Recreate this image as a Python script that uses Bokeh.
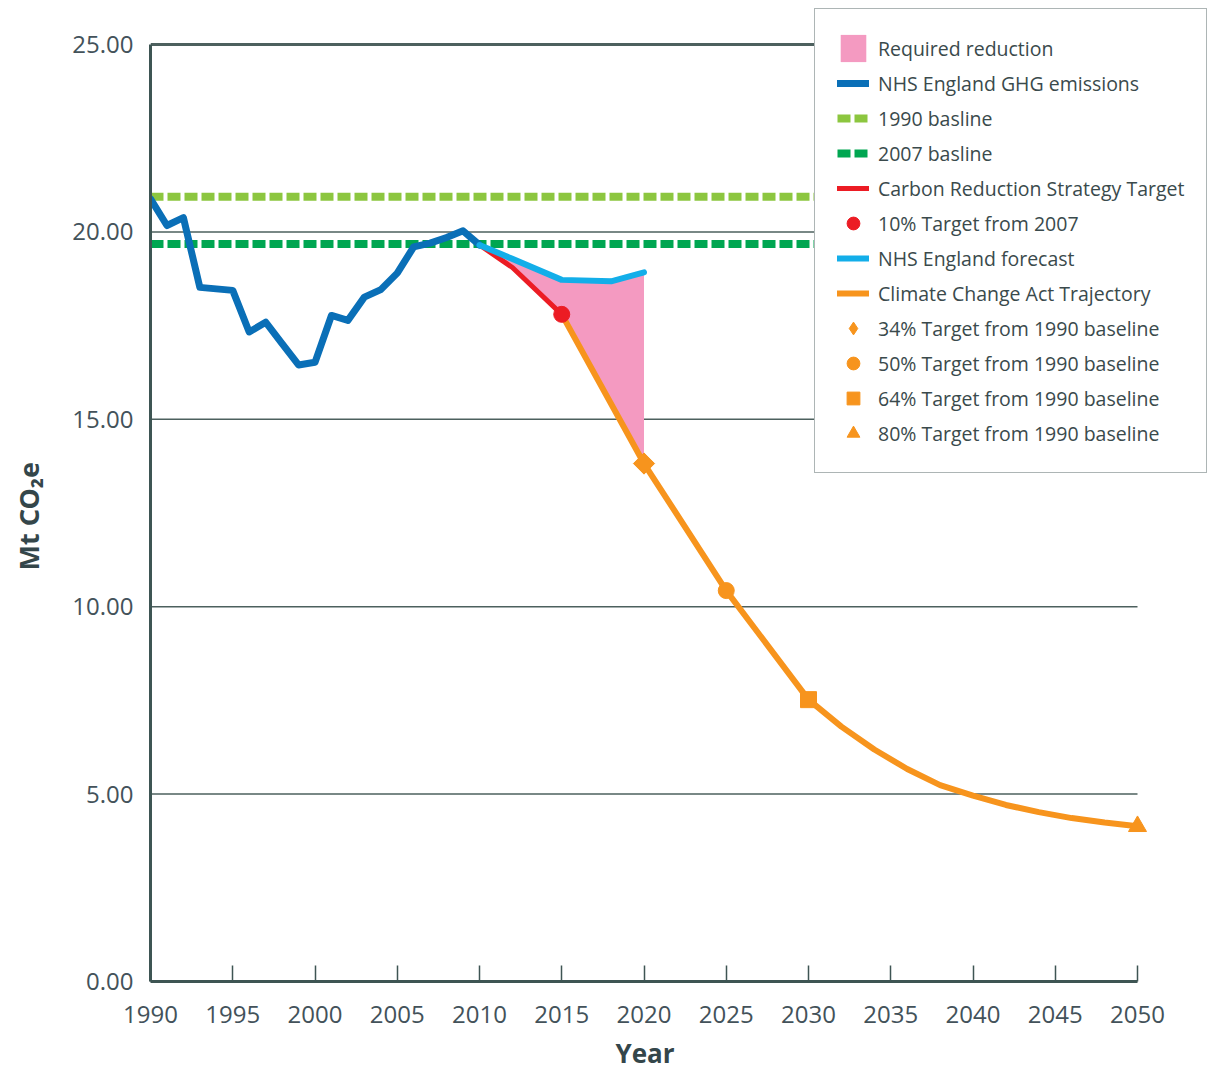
from bokeh.plotting import figure
from bokeh.models import Legend, LegendItem, FixedTicker, NumeralTickFormatter, Range1d, LinearAxis, Title
from bokeh.embed import file_html
from bokeh.resources import INLINE

# ---------------- data ----------------
years_hist = list(range(1990, 2011))
ghg_hist = [20.88, 20.17, 20.38, 18.52, 18.48, 18.44, 17.33, 17.59, 17.02, 16.45, 16.52,
            17.77, 17.64, 18.26, 18.46, 18.90, 19.60, 19.70, 19.85, 20.03, 19.65]

forecast_years = [2010, 2012, 2015, 2018, 2020]
forecast_vals = [19.65, 19.28, 18.72, 18.68, 18.92]

crs_years = [2010, 2012, 2015]
crs_vals = [19.65, 19.05, 17.80]

cca_years = [2015, 2020, 2025, 2030, 2032, 2034, 2036, 2038, 2040, 2042, 2044, 2046, 2048, 2050]
cca_vals = [17.80, 13.82, 10.43, 7.52, 6.80, 6.19, 5.67, 5.24, 4.96, 4.71, 4.52, 4.36, 4.24, 4.14]

baseline_years = [1990, 2050]
baseline_1990 = 20.94
baseline_2007 = 19.68

target_10_year, target_10_val = [2015], [17.80]
target_34_year, target_34_val = [2020], [13.82]
target_50_year, target_50_val = [2025], [10.43]
target_64_year, target_64_val = [2030], [7.52]
target_80_year, target_80_val = [2050], [4.14]

# lower edge of the required reduction: strategy target then CCA trajectory to 2020
lower_years = crs_years + [target_34_year[0]]
lower_vals = crs_vals + [target_34_val[0]]

x_start, x_end = 1990, 2050
y_start, y_end = 0, 25
x_ticks = list(range(1990, 2051, 5))
y_ticks = [0, 5, 10, 15, 20, 25]

# ---------------- colours / layout ----------------
AXIS = "#3e5553"
TEXT = "#43525a"
LABEL = "#34464a"
C_BLUE = "#0a6fb7"
C_LIGHTBLUE = "#13aee9"
C_LIME = "#8cc63f"
C_GREEN = "#00a651"
C_RED = "#ec1c24"
C_ORANGE = "#f7941d"
C_PINK = "#f49ac1"
FONT = "Open Sans"

PX_PER_YEAR = 987 / 60
PX_PER_UNIT = 937 / 25
FRAME_W = 1058          # frame extends right of 2050 so the legend can sit there
FRAME_H = 974           # frame extends above 25 so the legend can sit there

p = figure(frame_width=FRAME_W, frame_height=FRAME_H, output_backend="svg", toolbar_location=None,
           x_range=Range1d(x_start, x_start + FRAME_W / PX_PER_YEAR),
           y_range=Range1d(y_start, y_start + FRAME_H / PX_PER_UNIT),
           x_axis_type=None, y_axis_type=None,
           min_border_left=150, min_border_right=0, min_border_top=7, min_border_bottom=0)
p.outline_line_color = None
p.background_fill_color = "white"
p.xgrid.grid_line_color = None
p.ygrid.grid_line_color = None

# axes (bounded to the data extent)
xaxis = LinearAxis(ticker=FixedTicker(ticks=x_ticks), bounds=(x_start, x_end))
yaxis = LinearAxis(ticker=FixedTicker(ticks=y_ticks), bounds=(y_start, y_end),
                   formatter=NumeralTickFormatter(format="0.00"))
for ax in (xaxis, yaxis):
    ax.axis_line_color = AXIS
    ax.axis_line_width = 3
    ax.major_tick_line_color = AXIS
    ax.major_tick_line_width = 1.5
    ax.minor_tick_line_color = None
    ax.major_label_text_font = FONT
    ax.major_label_text_font_size = "24px"
    ax.major_label_text_color = TEXT
xaxis.major_tick_in = 16
xaxis.major_tick_out = 0
xaxis.major_label_standoff = 24
yaxis.major_tick_in = 0
yaxis.major_tick_out = 0
yaxis.major_label_standoff = 17
# blank axis label used only as a spacer between tick labels and the axis title
yaxis.axis_label = " "
yaxis.axis_label_text_font_size = "8px"
yaxis.axis_label_standoff = 6
p.add_layout(xaxis, "below")
p.add_layout(yaxis, "left")

# axis titles, placed against the data extent rather than the (wider) frame
ytitle = Title(text="Mt CO\u2082e", align="left", offset=411, standoff=10,
               text_font="Noto Sans", text_font_size="27px", text_font_style="bold", text_color=LABEL)
p.add_layout(ytitle, "left")
xtitle = Title(text="Year", align="left", offset=465, standoff=18, vertical_align="top",
               text_font=FONT, text_font_size="26px", text_font_style="bold", text_color=LABEL)
p.add_layout(xtitle, "below")

# horizontal grid lines from the y ticks, over the data extent (top one is the frame border)
grid_vals = [t for t in y_ticks if t > y_start]
p.segment(x0=[x_start] * len(grid_vals), x1=[x_end] * len(grid_vals), y0=grid_vals, y1=grid_vals,
          line_color="#4d605e", line_width=[3 if v == y_end else 1.5 for v in grid_vals])

# baselines
r_b1990 = p.line(baseline_years, [baseline_1990] * 2, line_color=C_LIME, line_width=8, line_dash="13 4")
r_b2007 = p.line(baseline_years, [baseline_2007] * 2, line_color=C_GREEN, line_width=8, line_dash="13 4")

# required reduction area
r_area = p.patch(forecast_years + lower_years[::-1], forecast_vals + lower_vals[::-1],
                 fill_color=C_PINK, line_color=None)

r_ghg = p.line(years_hist, ghg_hist, line_color=C_BLUE, line_width=7, line_join="round", line_cap="round")
r_crs = p.line(crs_years, crs_vals, line_color=C_RED, line_width=5, line_join="round", line_cap="round")
r_fc = p.line(forecast_years, forecast_vals, line_color=C_LIGHTBLUE, line_width=6, line_join="round", line_cap="round")
r_cca = p.line(cca_years, cca_vals, line_color=C_ORANGE, line_width=6, line_join="round", line_cap="round")

r_t10 = p.scatter(target_10_year, target_10_val, marker="circle", size=16, color=C_RED)
r_t34 = p.scatter(target_34_year, target_34_val, marker="diamond", size=21, color=C_ORANGE)
p.scatter(target_34_year, target_34_val, marker="square", size=15, angle=0.785398, color=C_ORANGE)
r_t50 = p.scatter(target_50_year, target_50_val, marker="circle", size=16, color=C_ORANGE)
r_t64 = p.scatter(target_64_year, target_64_val, marker="square", size=16, color=C_ORANGE)
r_t80 = p.scatter(target_80_year, target_80_val, marker="triangle", size=18, color=C_ORANGE)

legend = Legend(items=[
    LegendItem(label="Required reduction", renderers=[r_area]),
    LegendItem(label="NHS England GHG emissions", renderers=[r_ghg]),
    LegendItem(label="1990 basline", renderers=[r_b1990]),
    LegendItem(label="2007 basline", renderers=[r_b2007]),
    LegendItem(label="Carbon Reduction Strategy Target", renderers=[r_crs]),
    LegendItem(label="10% Target from 2007", renderers=[r_t10]),
    LegendItem(label="NHS England forecast", renderers=[r_fc]),
    LegendItem(label="Climate Change Act Trajectory", renderers=[r_cca]),
    LegendItem(label="34% Target from 1990 baseline", renderers=[r_t34]),
    LegendItem(label="50% Target from 1990 baseline", renderers=[r_t50]),
    LegendItem(label="64% Target from 1990 baseline", renderers=[r_t64]),
    LegendItem(label="80% Target from 1990 baseline", renderers=[r_t80]),
], location=(664, 508))
legend.label_text_font = FONT
legend.label_text_font_size = "19.5px"
legend.label_text_color = "#3a4a4c"
legend.glyph_width = 32
legend.glyph_height = 34
legend.label_height = 34
legend.spacing = 1
legend.padding = 22
legend.margin = 0
legend.label_standoff = 9
legend.border_line_color = "#5b6b6b"
legend.border_line_width = 1.5
legend.background_fill_color = "white"
legend.background_fill_alpha = 1.0
p.add_layout(legend, "center")

open("out.html", "w").write(file_html(p, INLINE))
